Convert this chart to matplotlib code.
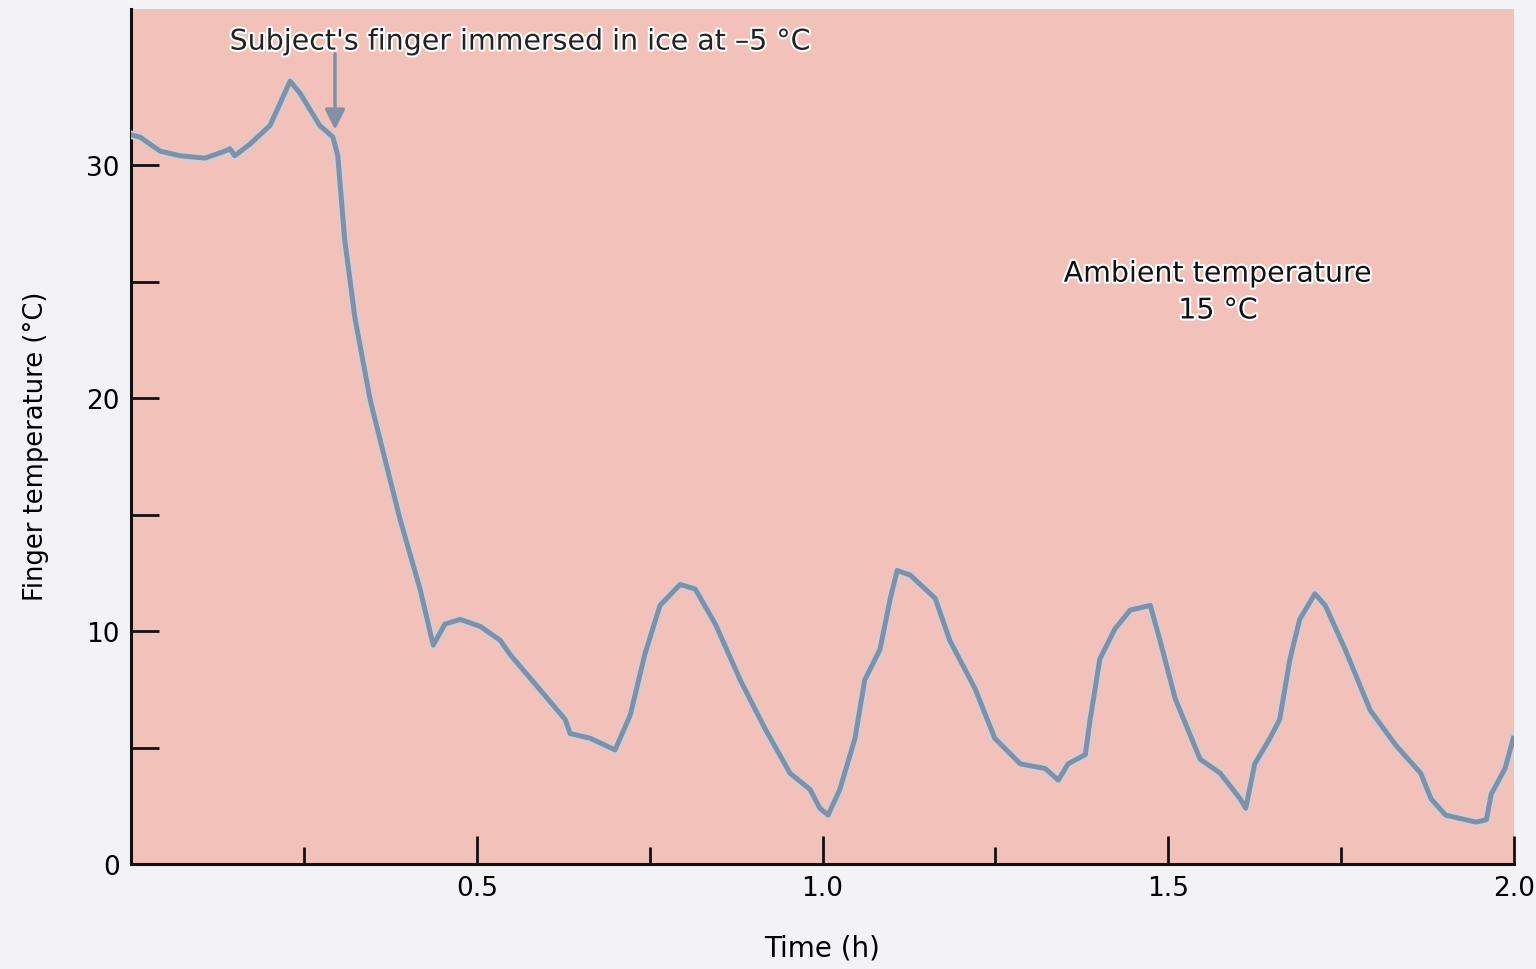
import matplotlib
matplotlib.use("Agg")
import matplotlib.pyplot as plt
import matplotlib.patheffects as pe
from matplotlib.ticker import FixedLocator

# finger temperature trace
time_h = [0.000, 0.013, 0.042, 0.071, 0.107, 0.136, 0.143, 0.150, 0.172, 0.201,
          0.230, 0.244, 0.273, 0.292, 0.299, 0.309, 0.324, 0.346, 0.367, 0.389,
          0.418, 0.437, 0.454, 0.476, 0.505, 0.534, 0.548, 0.591, 0.628, 0.635,
          0.664, 0.700, 0.722, 0.743, 0.765, 0.794, 0.816, 0.845, 0.881, 0.917,
          0.953, 0.982, 0.996, 1.008, 1.025, 1.047, 1.061, 1.083, 1.098, 1.108,
          1.127, 1.163, 1.184, 1.221, 1.249, 1.286, 1.322, 1.341, 1.355, 1.380,
          1.387, 1.401, 1.423, 1.445, 1.474, 1.488, 1.510, 1.546, 1.575, 1.604,
          1.612, 1.625, 1.647, 1.661, 1.676, 1.690, 1.712, 1.727, 1.756, 1.792,
          1.829, 1.865, 1.880, 1.901, 1.945, 1.960, 1.967, 1.987, 1.999]
temp_c = [31.3, 31.2, 30.6, 30.4, 30.3, 30.6, 30.7, 30.4, 30.9, 31.7,
          33.6, 33.1, 31.7, 31.2, 30.4, 26.8, 23.4, 19.9, 17.4, 14.8,
          11.8, 9.4, 10.3, 10.5, 10.2, 9.6, 9.0, 7.5, 6.2, 5.6,
          5.4, 4.9, 6.4, 9.0, 11.1, 12.0, 11.8, 10.3, 7.9, 5.8,
          3.9, 3.2, 2.4, 2.1, 3.2, 5.4, 7.9, 9.2, 11.4, 12.6,
          12.4, 11.4, 9.6, 7.5, 5.4, 4.3, 4.1, 3.6, 4.3, 4.7,
          6.2, 8.8, 10.1, 10.9, 11.1, 9.6, 7.1, 4.5, 3.9, 2.8,
          2.4, 4.3, 5.4, 6.2, 8.8, 10.5, 11.6, 11.1, 9.2, 6.6,
          5.1, 3.9, 2.8, 2.1, 1.8, 1.9, 3.0, 4.1, 5.4]

x_major = [0.5, 1.0, 1.5, 2.0]
x_minor = [0.25, 0.75, 1.25, 1.75]
y_labels = [0, 10, 20, 30]
y_minor = [5, 15, 25]

immersion_t = 0.295
immersion_text = "Subject's finger immersed in ice at \u20135 \u00b0C"
ambient_text = "Ambient temperature\n15 \u00b0C"

plt.rcParams["font.family"] = ["DejaVu Sans"]

fig = plt.figure(figsize=(15.36, 9.70), dpi=100, facecolor="#f3f2f7")
ax = fig.add_axes([0.0853, 0.1082, 0.9004, 0.8815])
ax.set_facecolor("#f2c1b9")

halo = [pe.Stroke(linewidth=6, foreground="#cbd1dc"), pe.Normal()]
ax.plot(time_h, temp_c, color="#8190a5", lw=3.6, solid_joinstyle="round",
        path_effects=halo, zorder=3)

ax.set_xlim(0, 2.0)
ax.set_ylim(0, 36.7)

for s in ("top", "right"):
    ax.spines[s].set_visible(False)
for s in ("left", "bottom"):
    ax.spines[s].set_linewidth(2.2)
    ax.spines[s].set_color("#111111")

ax.xaxis.set_major_locator(FixedLocator(x_major))
ax.xaxis.set_minor_locator(FixedLocator(x_minor))
ax.set_xticklabels([f"{v:.1f}" for v in x_major])
ax.yaxis.set_major_locator(FixedLocator(y_labels))
ax.yaxis.set_minor_locator(FixedLocator(y_minor))
ax.set_yticklabels([str(v) for v in y_labels])

ax.tick_params(axis="x", which="major", direction="in", length=20, width=2,
               labelsize=19, pad=8, color="#111111")
ax.tick_params(axis="x", which="minor", direction="in", length=12, width=2,
               color="#111111")
ax.tick_params(axis="y", which="both", direction="in", length=20, width=2,
               labelsize=19, pad=8, color="#111111")

ax.set_xlabel("Time (h)", fontsize=20, labelpad=23)
ax.set_ylabel("Finger temperature (\u00b0C)", fontsize=18.5)
ax.yaxis.set_label_coords(-0.059, 0.49)

white = [pe.withStroke(linewidth=3, foreground="white")]
ax.annotate("", xy=(immersion_t, 31.4), xytext=(immersion_t, 34.9),
            arrowprops=dict(arrowstyle="-|>", color="#8190a5", lw=2.5,
                            mutation_scale=30), zorder=4)
ax.text(0.563, 35.3, immersion_text, fontsize=20.5, ha="center", va="center",
        color="#222222", path_effects=white)
ax.text(1.572, 24.55, ambient_text, fontsize=20.5, ha="center", va="center",
        color="#111111", linespacing=1.4, path_effects=white)

fig.savefig("out.png", dpi=100, facecolor=fig.get_facecolor())
